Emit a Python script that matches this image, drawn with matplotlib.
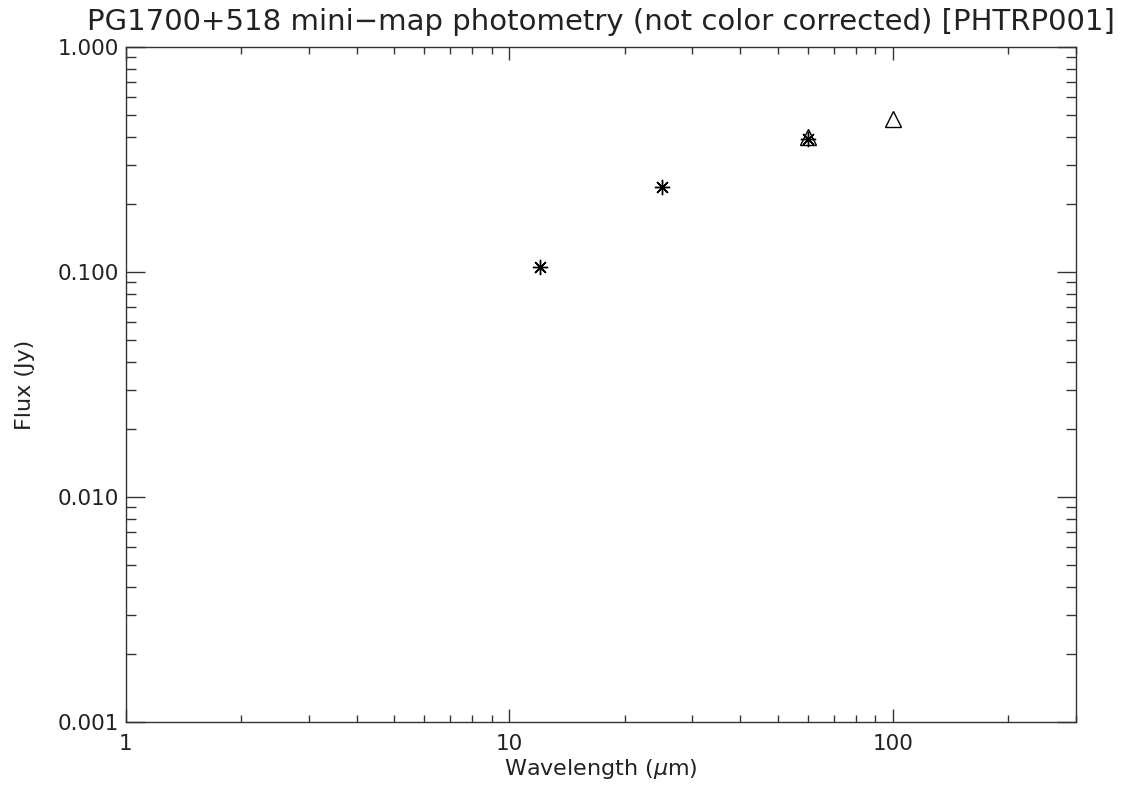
import numpy as np
import matplotlib
matplotlib.use('Agg')
from matplotlib import pyplot as plt
from matplotlib.ticker import FixedLocator, NullFormatter

# データ
wave_star = [12, 25, 60]
flux_star = [0.105, 0.238, 0.39]
wave_tri = [60, 100]
flux_tri = [0.40, 0.48]
xticks = [1, 10, 100]
xticklabels = ['1', '10', '100']
yticks = [0.001, 0.01, 0.1, 1.0]
yticklabels = ['0.001', '0.010', '0.100', '1.000']

plt.rcParams['font.family'] = ['DejaVu Sans']
fig = plt.figure(figsize=(11.32, 7.94), dpi=100)
ax = fig.add_axes([0.1113, 0.0907, 0.8392, 0.8501])

ax.plot(wave_star, flux_star, linestyle='none', marker=(8, 2, 0), markersize=11,
        color='black', markeredgewidth=1.0)
ax.plot(wave_tri, flux_tri, linestyle='none', marker='^', markersize=11,
        markerfacecolor='none', markeredgecolor='black', markeredgewidth=1.0)

ax.set_xscale('log')
ax.set_yscale('log')
ax.set_xlim(1, 300)
ax.set_ylim(0.001, 1.0)

ax.xaxis.set_major_locator(FixedLocator(xticks))
ax.set_xticklabels(xticklabels)
xminor = [m * 10 ** d for d in range(0, 3) for m in range(2, 10) if m * 10 ** d <= 300]
ax.xaxis.set_minor_locator(FixedLocator(xminor))
ax.xaxis.set_minor_formatter(NullFormatter())
ax.yaxis.set_major_locator(FixedLocator(yticks))
ax.set_yticklabels(yticklabels)
yminor = [m * 10.0 ** d for d in range(-3, 0) for m in range(2, 10)]
ax.yaxis.set_minor_locator(FixedLocator(yminor))
ax.yaxis.set_minor_formatter(NullFormatter())

ax.tick_params(axis='both', which='both', direction='in', top=True, right=True,
               color='#333333', width=1.0, labelsize=15.5, labelcolor='#222222')
ax.tick_params(axis='x', which='major', length=9.5, pad=9)
ax.tick_params(axis='x', which='minor', length=5)
ax.tick_params(axis='y', which='major', length=14, pad=5)
ax.tick_params(axis='y', which='minor', length=7)
for s in ax.spines.values():
    s.set_color('#333333')
    s.set_linewidth(1.0)

ax.set_title('PG1700+518 mini\u2212map photometry (not color corrected) [PHTRP001]',
             fontsize=21, color='#222222', pad=12)
ax.set_xlabel('Wavelength ($\\mu$m)', fontsize=16, color='#222222', labelpad=2)
ax.set_ylabel('Flux (Jy)', fontsize=16, color='#222222', labelpad=16)

fig.savefig('out.png', dpi=100)
